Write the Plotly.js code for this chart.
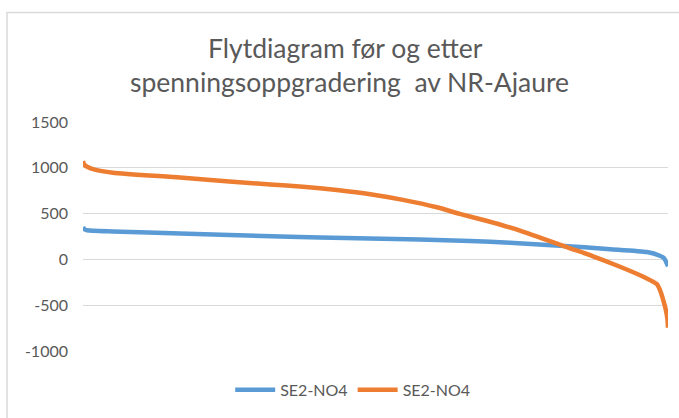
<!DOCTYPE html>
<html>
<head>
<meta charset="utf-8">
<script src="https://cdn.plot.ly/plotly-3.0.1.min.js"></script>
<style>
  body { margin: 0; background: #fff; }
  #plot { width: 679px; height: 418px; }
</style>
</head>
<body>
<div id="plot"></div>
<script>
// Varighetskurver, x = andel av tiden (%)
var titleLines = ['Flytdiagram før og etter', 'spenningsoppgradering  av NR-Ajaure'];
var seriesNames = ['SE2-NO4', 'SE2-NO4'];
var yTicks = [-1000, -500, 0, 500, 1000, 1500];
var yTickText = ['-1000', '-500', '0', '500', '1000', '1500'];

var blueX = [0, 0.2, 0.7, 5.1, 16.6, 33.7, 40.5, 49, 57.6, 66.2, 73, 81.5, 90.1, 96.4, 98.6, 99.3, 99.8, 100];
var blueY = [355, 330, 318, 305, 283, 250, 240, 227, 216, 200, 182, 150, 112, 80, 40, 15, -45, -75];

var orangeX = [0, 0.2, 0.7, 2, 5.1, 16.6, 25, 32, 37.6, 43.4, 49.1, 54.7, 60.5, 64.4, 69.1, 74.7, 78.6, 82.7, 87.2, 91.8, 95.7, 98.1, 98.6, 99.15, 99.66, 99.9, 100];
var orangeY = [1075, 1035, 1012, 980, 947, 894, 850, 818, 793, 757, 712, 650, 569, 497, 419, 315, 228, 134, 34, -80, -187, -270, -330, -436, -560, -650, -745];

var traces = [
    {
        x: blueX,
        y: blueY,
        type: 'scatter',
        mode: 'lines',
        name: seriesNames[0],
        line: { color: '#5B9BD5', width: 4.5, shape: 'spline', smoothing: 0.6 }
    },
    {
        x: orangeX,
        y: orangeY,
        type: 'scatter',
        mode: 'lines',
        name: seriesNames[1],
        line: { color: '#ED7D31', width: 4.5, shape: 'spline', smoothing: 0.6 }
    }
];

var font = 'Lato, "Open Sans", sans-serif';

var layout = {
    width: 679,
    height: 418,
    margin: { l: 83, r: 11, t: 122, b: 62 },
    paper_bgcolor: '#ffffff',
    plot_bgcolor: '#ffffff',
    font: { family: font, color: '#595959', size: 16 },
    showlegend: true,
    legend: {
        orientation: 'h',
        x: 0.461, xanchor: 'center',
        y: -0.17, yanchor: 'middle',
        font: { size: 16, color: '#595959' },
        itemwidth: 40
    },
    xaxis: {
        range: [0, 100],
        showgrid: false,
        zeroline: false,
        showticklabels: false,
        showline: false,
        ticks: ''
    },
    yaxis: {
        range: [-1000, 1500],
        tickvals: yTicks,
        ticktext: yTickText,
        gridcolor: '#D9D9D9',
        gridwidth: 1,
        zeroline: false,
        showline: false,
        ticks: '',
        ticklabelstandoff: 14,
        tickfont: { size: 16, color: '#595959' }
    },
    annotations: [
        {
            text: titleLines[0],
            xref: 'paper', yref: 'paper',
            x: 0.448, y: (356 - 46) / 234,
            xanchor: 'center', yanchor: 'middle',
            showarrow: false,
            font: { size: 26.5, color: '#595959', family: font }
        },
        {
            text: titleLines[1],
            xref: 'paper', yref: 'paper',
            x: 0.456, y: (356 - 81) / 234,
            xanchor: 'center', yanchor: 'middle',
            showarrow: false,
            font: { size: 26.5, color: '#595959', family: font }
        }
    ],
    shapes: [
        {
            type: 'rect',
            xref: 'paper', yref: 'paper',
            x0: (7 - 83) / 585, x1: (690 - 83) / 585,
            y0: (356 - 430) / 234, y1: (356 - 10) / 234,
            line: { color: '#D9D9D9', width: 1.5 },
            layer: 'below'
        }
    ]
};

Plotly.newPlot('plot', traces, layout, { displayModeBar: false, staticPlot: true });
</script>
</body>
</html>
